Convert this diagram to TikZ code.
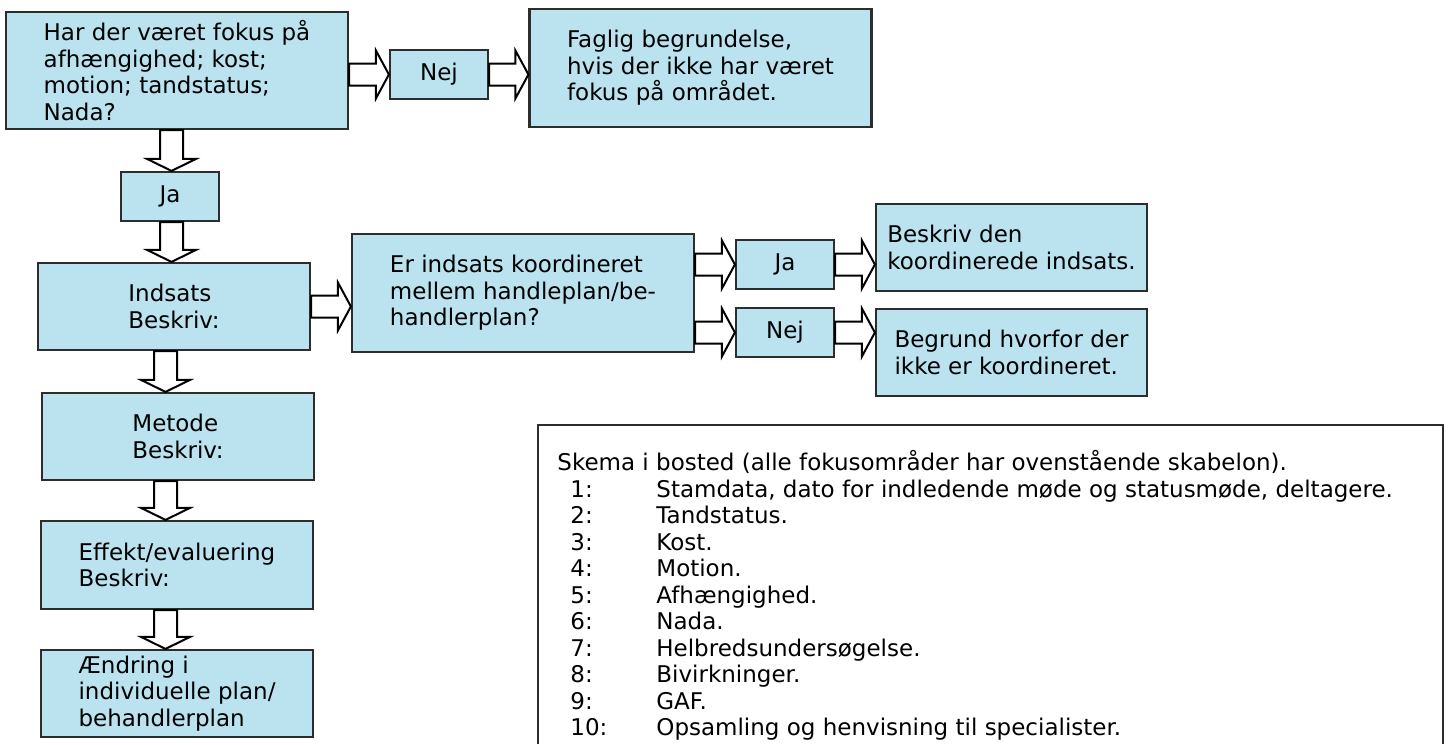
\documentclass[tikz,border=0pt]{standalone}
\usepackage{fontspec}
\setmainfont{DejaVu Sans}
\usetikzlibrary{calc}

\definecolor{boxblue}{RGB}{186,227,239}
\definecolor{boxline}{RGB}{45,45,45}
\newcommand{\boxfont}{\fontsize{11.5}{13.2}\selectfont}

\tikzset{
	box/.style={draw=boxline, line width=1.1pt, fill=boxblue, align=left, inner sep=0pt, font=\boxfont},
	bigbox/.style={box, minimum width=171pt, minimum height=58.5pt},
	midbox/.style={box, minimum width=136pt, minimum height=43.5pt},
	smallbox/.style={box, minimum width=49pt, minimum height=24.5pt},
	blockarrow/.style={draw=black, line width=1pt, fill=white, line join=miter},
	legtext/.style={inner sep=0pt, font=\boxfont},
}

% hollow block arrow pointing right, y taken from #1, tip at x of #2
\newcommand{\rarrow}[2]{%
	\draw[blockarrow] let \p1=#1, \p2=#2 in
		(\x1,\y1+5.5pt) -- (\x2-6.5pt,\y1+5.5pt) -- (\x2-6.5pt,\y1+12pt) -- (\x2,\y1)
		-- (\x2-6.5pt,\y1-12pt) -- (\x2-6.5pt,\y1-5.5pt) -- (\x1,\y1-5.5pt) -- cycle;}
% hollow block arrow pointing down, x taken from #1, tip at y of #2
\newcommand{\darrow}[2]{%
	\draw[blockarrow] let \p1=#1, \p2=#2 in
		(\x1-5.75pt,\y1) -- (\x1-5.75pt,\y2+6pt) -- (\x1-12.25pt,\y2+6pt) -- (\x1,\y2)
		-- (\x1+12.25pt,\y2+6pt) -- (\x1+5.75pt,\y2+6pt) -- (\x1+5.75pt,\y1) -- cycle;}

\begin{document}
\begin{tikzpicture}[x=0.5pt,y=-0.5pt]
	\useasboundingbox (0,0) rectangle (1449,744);

	% left column
	\node[bigbox] (fokus) at (177,70.5) {Har der været fokus på\\afhængighed; kost;\\motion; tandstatus;\\Nada?};
	\node[smallbox] (nej) at (439,74.5) {Nej};
	\node[bigbox, minimum height=59pt] (faglig) at (700.5,68) {Faglig begrundelse,\\hvis der ikke har været\\fokus på området.};
	\node[smallbox] (ja) at (170,196.5) {Ja};
	\node[midbox] (indsats) at (174,306.5) {Indsats\\Beskriv:};
	\node[midbox] (metode) at (178,436.5) {Metode\\Beskriv:};
	\node[midbox, minimum height=44pt] (effekt) at (177,565) {Effekt/evaluering\\Beskriv:};
	\node[midbox] (aendring) at (177,693.5) {Ændring i\\individuelle plan/\\behandlerplan};

	% koordinering
	\node[bigbox, minimum height=59pt] (koord) at (523,293) {Er indsats koordineret\\mellem handleplan/be-\\handlerplan?};
	\node[smallbox] (koordja) at (785,264.5) {Ja};
	\node[smallbox] (koordnej) at (785,332.5) {Nej};
	\node[midbox, minimum width=135.5pt] (beskriv) at (1011.5,247.5) {Beskriv den\\koordinerede indsats.};
	\node[midbox, minimum width=135.5pt] (begrund) at (1011.5,352.5) {Begrund hvorfor der\\ikke er koordineret.};

	% arrows
	\rarrow{(fokus.east |- nej.west)}{(nej.west)}
	\rarrow{(nej.east)}{(faglig.west)}
	\darrow{(fokus.south -| 171.5,0)}{(ja.north)}
	\darrow{(ja.south -| 171.5,0)}{(indsats.north)}
	\rarrow{(indsats.east)}{(koord.west)}
	\rarrow{(koord.east |- koordja.west)}{(koordja.west)}
	\rarrow{(koord.east |- koordnej.west)}{(koordnej.west)}
	\rarrow{(koordja.east)}{(beskriv.west)}
	\rarrow{(koordnej.east)}{(begrund.west)}
	\darrow{([xshift=-4.25pt]indsats.south)}{(metode.north)}
	\darrow{([xshift=-6.25pt]metode.south)}{(effekt.north)}
	\darrow{([xshift=-5.75pt]effekt.south)}{(aendring.north)}

	% skema
	\draw[draw=boxline, line width=1.15pt] (538,744) -- (538,425) -- (1443,425) -- (1443,744);
	\node[legtext, anchor=base west] (skema) at (557,470.5) {Skema i bosted (alle fokusområder har ovenstående skabelon).};
	\foreach \nr/\tekst [count=\i] in {1/{Stamdata, dato for indledende møde og statusmøde, deltagere.},
		2/Tandstatus., 3/Kost., 4/Motion., 5/Afhængighed., 6/Nada., 7/Helbredsundersøgelse.,
		8/Bivirkninger., 9/GAF., 10/Opsamling og henvisning til specialister.}{
		\node[legtext, anchor=base west] (nr\nr) at (570,470.5+26.5*\i) {\nr:};
		\node[legtext, anchor=base west] (punkt\nr) at (656,470.5+26.5*\i) {\tekst};
	}
\end{tikzpicture}
\end{document}
